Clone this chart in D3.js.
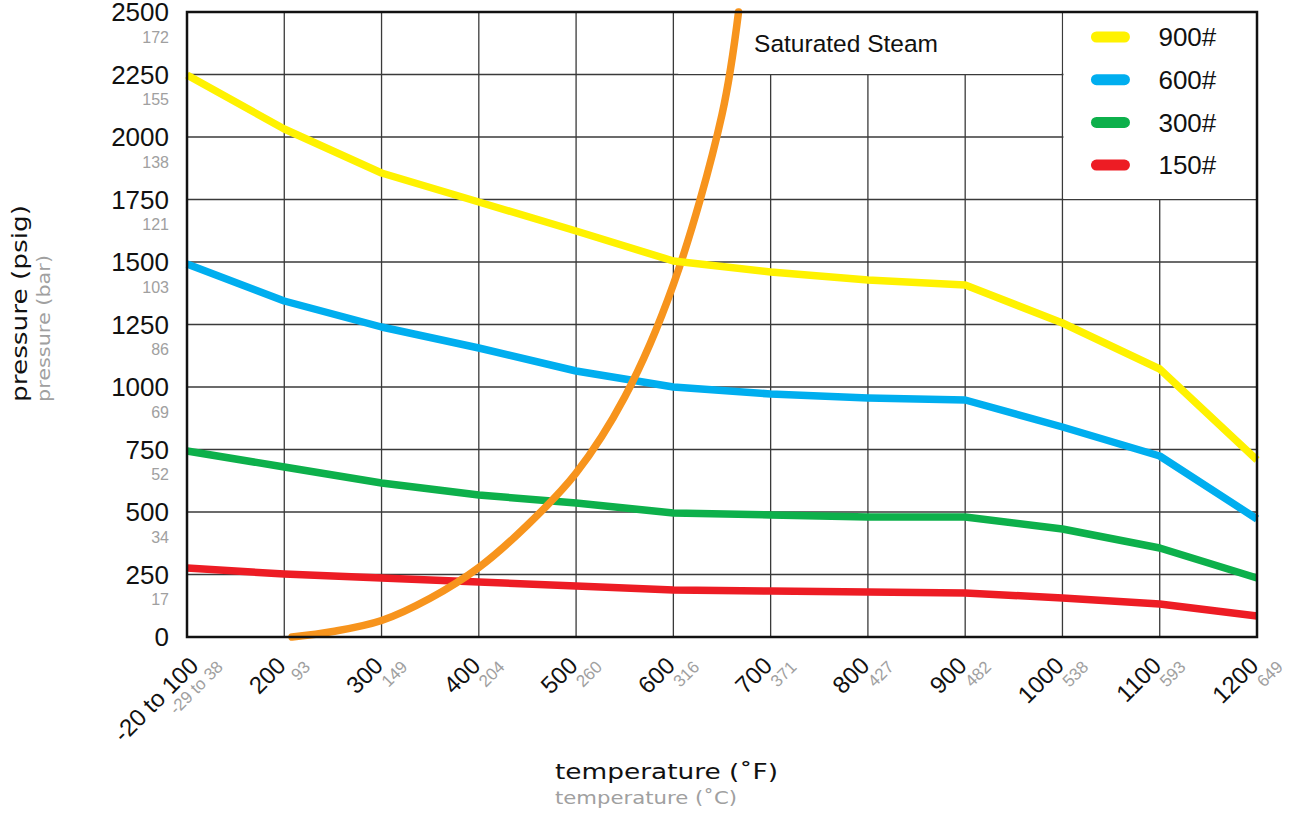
<!DOCTYPE html>
<html>
<head>
<meta charset="utf-8">
<script src="https://cdn.jsdelivr.net/npm/d3@7"></script>
<style>
  body { margin: 0; background: #fff; }
  svg { display: block; }
  .num { font-family: "Liberation Sans", Arial, sans-serif; }
  .ttl { font-family: "DejaVu Sans", "Open Sans", sans-serif; }
</style>
</head>
<body>
<svg width="1296" height="813"></svg>
<script>
// temperatures (F) on the x axis, with their labels
const temps = [100, 200, 300, 400, 500, 600, 700, 800, 900, 1000, 1100, 1200];
const tempLabelsF = ["-20 to 100", "200", "300", "400", "500", "600", "700", "800", "900", "1000", "1100", "1200"];
const tempLabelsC = ["-29 to 38", "93", "149", "204", "260", "316", "371", "427", "482", "538", "593", "649"];

// pressure ticks (psig) and their bar equivalents
const psigTicks = [0, 250, 500, 750, 1000, 1250, 1500, 1750, 2000, 2250, 2500];
const barLabels = ["", "17", "34", "52", "69", "86", "103", "121", "138", "155", "172"];

// pressure class ratings (psig)
const class900 = [2248, 2032, 1856, 1740, 1624, 1504, 1460, 1428, 1408, 1256, 1072, 708];
const class600 = [1492, 1344, 1240, 1156, 1064, 1000, 972, 956, 948, 840, 724, 472];
const class300 = [744, 680, 616, 568, 536, 496, 488, 480, 480, 432, 356, 236];
const class150 = [276, 252, 236, 220, 204, 188, 184, 180, 176, 156, 132, 84];

// saturated steam curve
const steamTemps = [208, 250, 300, 350, 400, 450, 500, 550, 600, 650, 667];
const steamPsig = [0, 22, 66, 155, 278, 448, 656, 960, 1410, 2090, 2500];

const series = [
  {name: "150#", values: class150, color: "#ED1C24"},
  {name: "300#", values: class300, color: "#0DB04B"},
  {name: "600#", values: class600, color: "#00AEEF"},
  {name: "900#", values: class900, color: "#FFF200"}
];

const svg = d3.select("svg");
const margin = {top: 12, right: 39, bottom: 176, left: 187};
const width = +svg.attr("width");
const height = +svg.attr("height");
const innerWidth = width - margin.left - margin.right;
const innerHeight = height - margin.top - margin.bottom;

const x = d3.scaleLinear().domain([100, 1200]).range([0, innerWidth]);
const y = d3.scaleLinear().domain([0, 2500]).range([innerHeight, 0]);

const g = svg.append("g").attr("transform", `translate(${margin.left},${margin.top})`);

// grid
g.append("g").selectAll("line").data(temps).join("line")
  .attr("x1", d => x(d)).attr("x2", d => x(d))
  .attr("y1", 0).attr("y2", innerHeight)
  .attr("stroke", "#3a3a3a").attr("stroke-width", 1.3);
g.append("g").selectAll("line").data(psigTicks).join("line")
  .attr("x1", 0).attr("x2", innerWidth)
  .attr("y1", d => y(d)).attr("y2", d => y(d))
  .attr("stroke", "#3a3a3a").attr("stroke-width", 1.3);

// white boxes behind the steam label and the legend
g.append("rect")
  .attr("x", x(605)).attr("y", 1)
  .attr("width", x(1000) - x(605) - 1).attr("height", y(2250) - 1.5)
  .attr("fill", "#fff");
g.append("rect")
  .attr("x", x(1000) + 1).attr("y", 1)
  .attr("width", innerWidth - x(1000) - 2).attr("height", y(1750) - 1.5)
  .attr("fill", "#fff");

g.append("text").attr("class", "num")
  .attr("x", x(683)).attr("y", y(2375))
  .attr("dy", "0.36em")
  .attr("font-size", 24.5)
  .attr("fill", "#111")
  .text("Saturated Steam");

// y axis labels
const yl = g.append("g");
yl.selectAll("text.psig").data(psigTicks).join("text")
  .attr("class", "num psig")
  .attr("x", -18).attr("y", d => y(d))
  .attr("dy", "0.36em")
  .attr("text-anchor", "end")
  .attr("font-size", 26)
  .attr("fill", "#111")
  .text(d => d);
yl.selectAll("text.bar").data(psigTicks).join("text")
  .attr("class", "num bar")
  .attr("x", -18).attr("y", d => y(d) + 25)
  .attr("dy", "0.36em")
  .attr("text-anchor", "end")
  .attr("font-size", 16)
  .attr("fill", "#a0a0a0")
  .text((d, i) => barLabels[i]);

// x axis labels, rotated
const xl = g.append("g");
xl.selectAll("text.f").data(temps).join("text")
  .attr("class", "num f")
  .attr("text-anchor", "end")
  .attr("font-size", 24)
  .attr("fill", "#111")
  .attr("transform", (d, i) => `translate(${x(d) + (i === 0 ? 13 : 3)},${innerHeight + 30}) rotate(-45)`)
  .text((d, i) => tempLabelsF[i]);
xl.selectAll("text.c").data(temps).join("text")
  .attr("class", "num c")
  .attr("text-anchor", "end")
  .attr("font-size", 17)
  .attr("fill", "#a0a0a0")
  .attr("transform", (d, i) => `translate(${x(d) + (i === 0 ? 37 : 27)},${innerHeight + 31}) rotate(-45)`)
  .text((d, i) => tempLabelsC[i]);

// axis titles
g.append("text").attr("class", "ttl")
  .attr("x", 368).attr("y", innerHeight + 142)
  .attr("font-size", 22).attr("fill", "#111")
  .attr("textLength", 223).attr("lengthAdjust", "spacingAndGlyphs")
  .text("temperature (˚F)");
g.append("text").attr("class", "ttl")
  .attr("x", 368).attr("y", innerHeight + 167)
  .attr("font-size", 18).attr("fill", "#a0a0a0")
  .attr("textLength", 182).attr("lengthAdjust", "spacingAndGlyphs")
  .text("temperature (˚C)");
g.append("text").attr("class", "ttl")
  .attr("transform", `translate(-160,${y(940)}) rotate(-90)`)
  .attr("font-size", 22).attr("fill", "#111")
  .attr("textLength", 197).attr("lengthAdjust", "spacingAndGlyphs")
  .text("pressure (psig)");
g.append("text").attr("class", "ttl")
  .attr("transform", `translate(-137,${y(940)}) rotate(-90)`)
  .attr("font-size", 18).attr("fill", "#a0a0a0")
  .attr("textLength", 147).attr("lengthAdjust", "spacingAndGlyphs")
  .text("pressure (bar)");

// lines
const line = d3.line()
  .x((d, i) => x(temps[i]))
  .y(d => y(d));

const steamLine = d3.line()
  .x((d, i) => x(steamTemps[i]))
  .y(d => y(d))
  .curve(d3.curveCatmullRom.alpha(0.5));

g.append("g").selectAll("path").data(series.slice(0, 3)).join("path")
  .attr("d", d => line(d.values))
  .attr("fill", "none")
  .attr("stroke", d => d.color)
  .attr("stroke-width", 7.5)
  .attr("stroke-linejoin", "round");

g.append("path")
  .attr("d", steamLine(steamPsig))
  .attr("fill", "none")
  .attr("stroke", "#F7941D")
  .attr("stroke-width", 7.5)
  .attr("stroke-linecap", "round");

g.append("path")
  .attr("d", line(series[3].values))
  .attr("fill", "none")
  .attr("stroke", series[3].color)
  .attr("stroke-width", 7.5)
  .attr("stroke-linejoin", "round");

// frame
g.append("rect")
  .attr("width", innerWidth).attr("height", innerHeight)
  .attr("fill", "none").attr("stroke", "#111").attr("stroke-width", 2.5);

// legend
const legendItems = series.slice().reverse();
const lg = g.append("g").attr("transform", `translate(${x(1000)},0)`);
lg.selectAll("line").data(legendItems).join("line")
  .attr("x1", 34).attr("x2", 62)
  .attr("y1", (d, i) => 25 + i * 42.7).attr("y2", (d, i) => 25 + i * 42.7)
  .attr("stroke", d => d.color)
  .attr("stroke-width", 11)
  .attr("stroke-linecap", "round");
lg.selectAll("text").data(legendItems).join("text")
  .attr("class", "num")
  .attr("x", 96).attr("y", (d, i) => 25 + i * 42.7)
  .attr("dy", "0.36em")
  .attr("font-size", 26)
  .attr("fill", "#111")
  .text(d => d.name);
</script>
</body>
</html>
